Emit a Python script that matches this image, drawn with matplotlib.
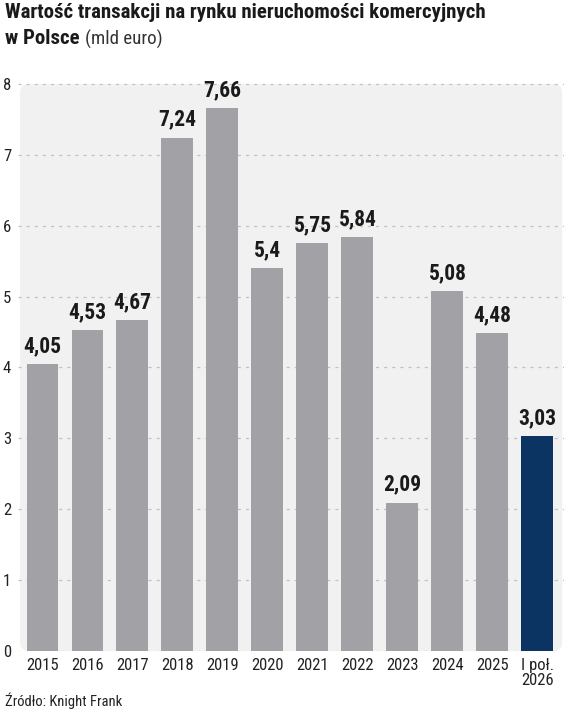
import matplotlib
matplotlib.use("Agg")
import matplotlib.pyplot as plt
from matplotlib.patches import FancyBboxPatch
from matplotlib import font_manager

lata = ["2015", "2016", "2017", "2018", "2019", "2020", "2021", "2022",
        "2023", "2024", "2025", "I poł.\n2026"]
wartosci = [4.05, 4.53, 4.67, 7.24, 7.66, 5.4, 5.75, 5.84, 2.09, 5.08, 4.48, 3.03]
etykiety = ["4,05", "4,53", "4,67", "7,24", "7,66", "5,4", "5,75", "5,84",
            "2,09", "5,08", "4,48", "3,03"]
y_ticks = [0, 1, 2, 3, 4, 5, 6, 7, 8]

# szukamy waskiego kroju, jesli jest
czcionki = font_manager.fontManager.ttflist
nazwy = {f.name for f in czcionki}
waski = dict(family="Roboto")
for kandydat in ["Liberation Sans Narrow", "Roboto Condensed", "Open Sans Condensed"]:
    if kandydat in nazwy:
        waski = dict(family=kandydat)
        break
else:
    if any(f.name == "DejaVu Sans" and f.stretch == "condensed" for f in czcionki):
        waski = dict(family="DejaVu Sans", fontstretch="condensed")

kolory = ["#a2a2a6"] * (len(wartosci) - 1) + ["#0b3462"]

fig = plt.figure(figsize=(5.64, 7.10), dpi=100)
ax = fig.add_axes([18 / 564, 59 / 710, 546 / 564, 591 / 710])

x = list(range(len(wartosci)))
ax.set_xlim(-0.544, 11.59)
ax.set_ylim(0, 8 + (84 - 60) / 70.9)

# tlo panelu z zaokraglonymi rogami
panel = FancyBboxPatch((-0.5, 0), 12.05, 8, boxstyle="round,pad=0,rounding_size=0.2",
                       mutation_aspect=0.63, facecolor="#f1f1f1", edgecolor="none", zorder=0)
ax.add_patch(panel)

for t in y_ticks:
    ax.axhline(t, color="#c2c2c2", linestyle=(0, (2.5, 4)), linewidth=0.9, zorder=1)

ax.bar(x, wartosci, width=0.71, color=kolory, zorder=2)

for xi, v, e in zip(x, wartosci, etykiety):
    ax.text(xi, v + 0.1, e, ha="center", va="bottom", fontsize=15.5,
            fontweight="bold", color="#1a1a1a", **waski)

ax.set_xticks(x)
ax.set_xticklabels(lata, fontsize=12, color="#222222", multialignment="center",
                   linespacing=1.0, **waski)
ax.set_yticks(y_ticks)
ax.set_yticklabels([str(t) for t in y_ticks], fontsize=12, color="#222222", **waski)
ax.tick_params(axis="x", length=0, pad=5)
ax.tick_params(axis="y", length=0, pad=5)
for s in ax.spines.values():
    s.set_visible(False)

# tytul - dopasowanie szerokosci do ok. 485 px
tytul = fig.text(5 / 564, 1 - 3 / 710, "Wartość transakcji na rynku nieruchomości komercyjnych",
                 ha="left", va="top", fontsize=14, fontweight="bold", color="#1a1a1a",
                 **waski)
r = fig.canvas.get_renderer()
szer = tytul.get_window_extent(r).width
rozmiar = min(14 * 485 / szer, 15.5)
tytul.set_fontsize(rozmiar)

polsce = fig.text(5 / 564, 1 - 29 / 710, "w Polsce", ha="left", va="top", fontsize=rozmiar,
                  fontweight="bold", color="#1a1a1a", **waski)
koniec = polsce.get_window_extent(r).x1
fig.text((koniec + 5) / 564, 1 - 30 / 710, "(mld euro)", ha="left", va="top",
         fontsize=rozmiar * 0.9, color="#333333", **waski)

fig.text(5 / 564, 1 - 701 / 710, "Źródło: Knight Frank", ha="left", va="center",
         fontsize=10.5, color="#222222", **waski)

fig.savefig("out.png", dpi=100)
